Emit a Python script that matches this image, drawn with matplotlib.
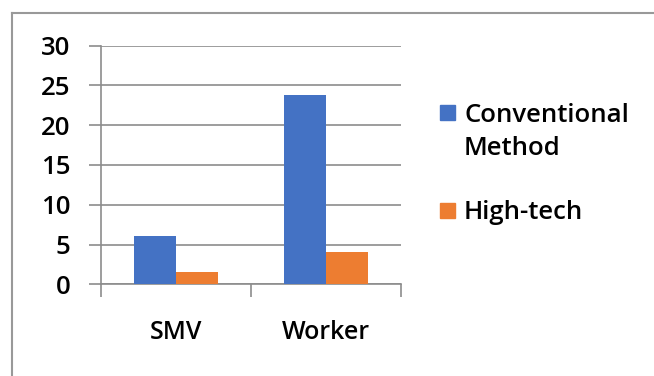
import numpy as np
import matplotlib.pyplot as plt
from matplotlib.lines import Line2D

plt.rcParams['font.family'] = ['Open Sans', 'DejaVu Sans']
plt.rcParams['font.weight'] = 600

categories = ["SMV", "Worker"]
conventional = [6.1, 23.8]
high_tech = [1.6, 4.0]
series_names = ["Conventional\nMethod", "High-tech"]
blue = "#4472C4"
orange = "#ED7D31"
grid_grey = "#8C8C8C"

W, H = 654, 376
fig = plt.figure(figsize=(W / 100, H / 100), dpi=100)

# outer chart frame: top and left edges only
fig.add_artist(Line2D([12 / W, 1.0], [1 - 13 / H, 1 - 13 / H], color="#999999", lw=1.5))
fig.add_artist(Line2D([12 / W, 12 / W], [0, 1 - 13 / H], color="#999999", lw=1.5))

ax = fig.add_axes([101 / W, 1 - 284.3 / H, 300 / W, 238.6 / H])

x = np.arange(len(categories))
width = 0.283
ax.bar(x - width / 2, conventional, width, color=blue, zorder=3)
ax.bar(x + width / 2, high_tech, width, color=orange, zorder=3)

ax.set_xlim(-0.5, len(categories) - 0.5)
ax.set_ylim(0, 30)
ax.set_yticks(range(0, 31, 5))
ax.yaxis.grid(True, color=grid_grey, lw=1.2, zorder=0)

# gridlines poke out to the left like tick marks
ax.tick_params(axis="y", length=9, color=grid_grey, width=1.2, labelsize=18.5, pad=13)
ax.set_xticks(x)
ax.set_xticklabels(categories, fontsize=18)
ax.set_xticks([-0.5, 0.5, 1.5], minor=True)
ax.tick_params(axis="x", which="major", length=0, pad=26)
ax.tick_params(axis="x", which="minor", length=9, color=grid_grey, width=1.2)

for side in ["top", "right"]:
    ax.spines[side].set_visible(False)
ax.spines["left"].set_color(grid_grey)
ax.spines["bottom"].set_color(grid_grey)
ax.spines["left"].set_linewidth(1.2)
ax.spines["bottom"].set_linewidth(1.2)

# legend boxes and labels, one text per line
legend_rows = [(112, blue, series_names[0]), (210, orange, series_names[1])]
for mid, col, name in legend_rows:
    fig.add_artist(plt.Rectangle((440 / W, 1 - (mid + 7.5) / H), 15 / W, 15 / H,
                                 color=col, transform=fig.transFigure))
    for i, line in enumerate(name.split("\n")):
        fig.text(464 / W, 1 - (mid + 33 * i) / H, line, fontsize=18.5,
                 va="center_baseline", ha="left")

fig.savefig("out.png", dpi=100)
